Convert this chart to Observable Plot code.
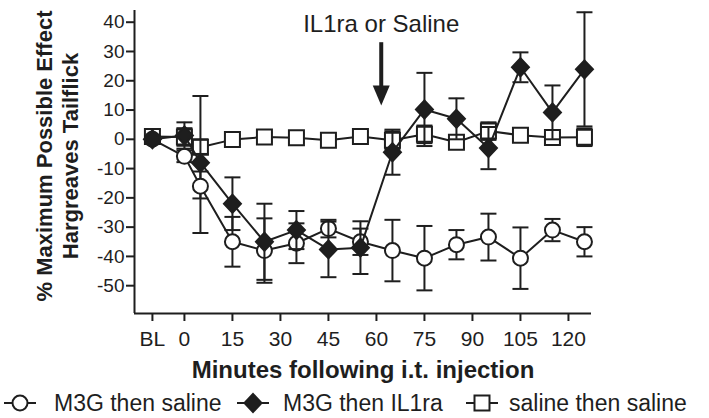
<!DOCTYPE html>
<html><head><meta charset="utf-8">
<script src="https://cdn.jsdelivr.net/npm/d3@7"></script>
<script src="https://cdn.jsdelivr.net/npm/@observablehq/plot@0.6"></script>
<style>
html,body{margin:0;padding:0;background:#fff;}
#wrap{position:relative;width:709px;height:418px;font-family:"Liberation Sans",Arial,sans-serif;color:#1e1e1e;overflow:hidden;}
#legend{position:absolute;left:0;top:388px;width:709px;height:30px;}
.sym{position:absolute;top:0;}
.lab{position:absolute;top:0;height:30px;line-height:30px;font-size:23px;white-space:nowrap;}
</style></head><body><div id="wrap"><div id="chart"></div><div id="legend"></div></div>
<script>
// ---- data ----
// time points in minutes; -10 stands for the baseline "BL" category
const minutes = [-10, 0, 5, 15, 25, 35, 45, 55, 65, 75, 85, 95, 105, 115, 125];
const xTickValues = [-10, 0, 15, 30, 45, 60, 75, 90, 105, 120];
const xTickLabels = ["BL", "0", "15", "30", "45", "60", "75", "90", "105", "120"];
const yTickValues = [40, 30, 20, 10, 0, -10, -20, -30, -40, -50];
const seriesNames = ["M3G then saline", "M3G then IL1ra", "saline then saline"];

const m3gSaline    = [0, -5.8, -16, -35, -38, -35.5, -30.5, -35, -38, -40.6, -36, -33.4, -40.6, -31, -35];
const m3gSalineErr = [1, 2, 16, 8.5, 11, 6.8, 3, 4.5, 10.5, 11, 5, 8, 10.5, 3.8, 5];
const m3gIl1ra     = [0, 1.3, -8, -22, -35, -31, -37.6, -37, -4.4, 10.2, 7, -3, 24.6, 9.2, 23.9];
const m3gIl1raErr  = [1, 4.5, 3, 9, 13, 6.5, 9.5, 9, 7.7, 12.5, 7, 7.2, 5.1, 9.2, 19.5];
const salineSaline    = [1, 0.8, -2.7, -0.1, 0.8, 0.5, -0.3, 1, -0.3, 1.7, -1, 2.8, 1.4, 0.6, 0.7];
const salineSalineErr = [2, 3, 17.5, 1.5, 1.5, 1.5, 1.5, 1.5, 3, 3, 2, 3, 2, 1.5, 3];

const annotationText = "IL1ra or Saline";
const annotationMinute = 61.5;
const annotationTextY = 39.2;
const arrowTopY = 33, arrowShaftEndY = 17, arrowHeadY = 15;

const xTitle = "Minutes following i.t. injection";
const yTitle = "% Maximum Possible Effect\nHargreaves Tailflick";
const xDomain = [-15.6, 127.2];
const yDomain = [-59.5, 44];

// ---- styling ----
const ink = "#1e1e1e";
const circleSym = {draw(c){ c.moveTo(7.5,0); c.arc(0,0,7.5,0,2*Math.PI); c.closePath(); }};
const squareSym = {draw(c){ c.rect(-7.5,-7.5,15,15); }};
const diamondSym = {draw(c){ c.moveTo(0,-9); c.lineTo(8.5,0); c.lineTo(0,9); c.lineTo(-8.5,0); c.closePath(); }};
const capSym = {draw(c){ c.moveTo(-8,0); c.lineTo(8,0); }};
const headSym = {draw(c){ c.moveTo(-8.5,-10); c.lineTo(8.5,-10); c.lineTo(0,10); c.closePath(); }};

const series = [
  {name: seriesNames[2], values: salineSaline, errs: salineSalineErr, symbol: squareSym, fill: "white"},
  {name: seriesNames[0], values: m3gSaline, errs: m3gSalineErr, symbol: circleSym, fill: "white"},
  {name: seriesNames[1], values: m3gIl1ra, errs: m3gIl1raErr, symbol: diamondSym, fill: ink}
];

const seriesMarks = series.flatMap(s => {
  const rows = minutes.map((m, i) => ({minute: m, value: s.values[i], err: s.errs[i]}));
  return [
    Plot.line(rows, {x: "minute", y: "value", stroke: ink, strokeWidth: 2}),
    Plot.ruleX(rows, {x: "minute", y1: d => d.value - d.err, y2: d => d.value + d.err, stroke: ink, strokeWidth: 2}),
    Plot.dot(rows, {x: "minute", y: d => d.value + d.err, symbol: capSym, stroke: ink, strokeWidth: 2, fill: "none"}),
    Plot.dot(rows, {x: "minute", y: d => d.value - d.err, symbol: capSym, stroke: ink, strokeWidth: 2, fill: "none"}),
    Plot.dot(rows, {x: "minute", y: "value", symbol: s.symbol, stroke: ink, strokeWidth: 2, fill: s.fill})
  ];
});

const chart = Plot.plot({
  width: 709, height: 388,
  marginLeft: 134, marginRight: 118, marginTop: 10, marginBottom: 75,
  x: {domain: xDomain},
  y: {domain: yDomain},
  style: {fontFamily: '"Liberation Sans", Arial, sans-serif', color: ink, background: "white", overflow: "visible"},
  marks: [
    Plot.axisY({ticks: yTickValues, tickFormat: d => String(d), tickSize: 8, tickPadding: 2, fontSize: 19, strokeWidth: 2, label: null}),
    Plot.axisX({ticks: xTickValues, tickFormat: d => xTickLabels[xTickValues.indexOf(d)], tickSize: 8, tickPadding: 10, fontSize: 21, strokeWidth: 2, label: null}),
    Plot.ruleX([xDomain[0]], {stroke: ink, strokeWidth: 2}),
    Plot.ruleY([yDomain[0]], {stroke: ink, strokeWidth: 2}),
    ...seriesMarks,
    Plot.text([annotationText], {x: annotationMinute, y: annotationTextY, fontSize: 24}),
    Plot.ruleX([annotationMinute], {y1: arrowTopY, y2: arrowShaftEndY, stroke: ink, strokeWidth: 4}),
    Plot.dot([annotationMinute], {x: d => d, y: arrowHeadY, symbol: headSym, fill: ink, stroke: "none"}),
    Plot.text([yTitle], {frameAnchor: "left", dx: -78, dy: -6, rotate: -90, textAnchor: "middle", fontSize: 22, fontWeight: "bold", lineHeight: 1.2}),
    Plot.text([xTitle], {frameAnchor: "bottom", dy: 64, fontSize: 24, fontWeight: "bold"})
  ]
});
document.getElementById("chart").appendChild(chart);

// ---- legend (HTML below the SVG) ----
const legendSymbols = [circleSym, diamondSym, squareSym];
const legendFills = ["white", ink, "white"];
const legendSymbolX = [20, 253, 482];
const legendTextX = [54, 283, 509];
const legend = document.getElementById("legend");
seriesNames.forEach((name, i) => {
  const svg = d3.create("svg").attr("class", "sym").attr("width", 40).attr("height", 30)
    .style("left", (legendSymbolX[i] - 20) + "px");
  svg.append("line").attr("x1", 4).attr("x2", 36).attr("y1", 15).attr("y2", 15).attr("stroke", ink).attr("stroke-width", 2);
  svg.append("path").attr("transform", "translate(20,15)")
    .attr("d", d3.symbol(legendSymbols[i])())
    .attr("fill", legendFills[i]).attr("stroke", ink).attr("stroke-width", 2);
  legend.appendChild(svg.node());
  const lab = document.createElement("div");
  lab.className = "lab"; lab.textContent = name; lab.style.left = legendTextX[i] + "px";
  legend.appendChild(lab);
});
</script>
</body></html>
